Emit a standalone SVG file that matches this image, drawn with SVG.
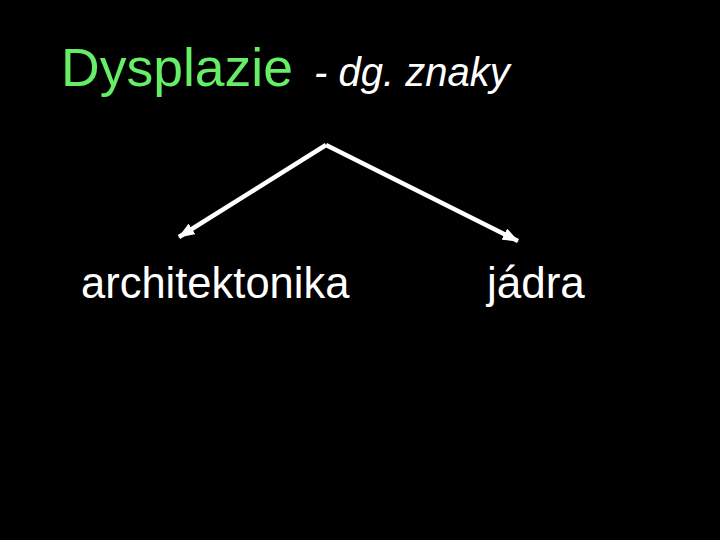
<svg xmlns="http://www.w3.org/2000/svg" width="720" height="540" viewBox="0 0 720 540">
<style>
.t{font-family:"Liberation Sans",Arial,sans-serif}
.w{fill:#ffffff}
.c{stroke:#ffffff;stroke-width:4.5;fill:none;stroke-linejoin:miter}
</style>
<defs>
<marker id="ah" markerWidth="3.6" markerHeight="2.8" refX="3.4" refY="1.4" orient="auto" markerUnits="strokeWidth">
<path d="M0,0 L3.6,1.4 L0,2.8 Z" fill="#ffffff"/>
</marker>
</defs>
<rect width="720" height="540" fill="#000000"/>
<g id="title">
<text class="t" x="61" y="86" font-size="53.5" fill="#66ee66">Dysplazie</text>
<text class="t w" x="314" y="86" font-size="40" font-style="italic">- dg. znaky</text>
</g>
<g id="connectors">
<path class="c" d="M326,145 L179,237" marker-end="url(#ah)"/>
<path class="c" d="M326,145 L518,241" marker-end="url(#ah)"/>
</g>
<g id="node-architektonika">
<text class="t w" x="81" y="298" font-size="43.5">architektonika</text>
</g>
<g id="node-jadra">
<text class="t w" x="487" y="298" font-size="44">jádra</text>
</g>
</svg>
